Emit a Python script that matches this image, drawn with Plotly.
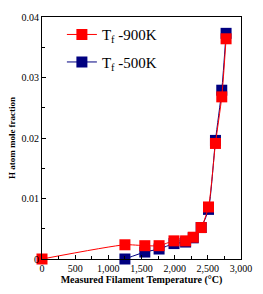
import plotly.graph_objects as go

temp_900 = [0, 1250, 1550, 1765, 1990, 2165, 2280, 2400, 2510, 2615, 2710, 2775]
frac_900 = [0.0, 0.00235, 0.0022, 0.0022, 0.0030, 0.0030, 0.0036, 0.0052, 0.0086, 0.0191, 0.0268, 0.0364]
temp_500 = [1250, 1550, 1765, 1990, 2165, 2280, 2400, 2510, 2615, 2710, 2775]
frac_500 = [0.0, 0.00115, 0.00165, 0.00255, 0.0028, 0.0035, 0.0052, 0.0082, 0.0196, 0.0279, 0.0373]
y_tickvals = [0, 0.01, 0.02, 0.03, 0.04]
y_ticktext = ["0", "0.01", "0.02", "0.03", "0.04"]
x_tickvals = [0, 500, 1000, 1500, 2000, 2500, 3000]
x_ticktext = ["0", "500", "1,000", "1,500", "2,000", "2,500", "3,000"]

serif = "Liberation Serif, Times New Roman, serif"

fig = go.Figure()
fig.add_trace(go.Scatter(
    x=temp_500, y=frac_500, mode="lines+markers", name="T<sub>f</sub> -500K",
    legendgroup="b", legendrank=2,
    line=dict(color="#000080", width=1, shape="spline", smoothing=0.6),
    marker=dict(symbol="square", size=11, color="#000080"),
    cliponaxis=False,
))
fig.add_trace(go.Scatter(
    x=temp_900, y=frac_900, mode="lines+markers", name="T<sub>f</sub> -900K",
    legendgroup="a", legendrank=1,
    line=dict(color="#ff0000", width=1, shape="spline", smoothing=0.6),
    marker=dict(symbol="square", size=11, color="#ff0000"),
    cliponaxis=False,
))

fig.update_layout(
    width=263, height=294,
    margin=dict(l=40, r=21, t=11, b=32),
    paper_bgcolor="white", plot_bgcolor="white",
    font=dict(family=serif, size=10, color="black"),
    showlegend=True,
    legend=dict(x=0.1, y=0.995, xanchor="left", yanchor="top",
                traceorder="grouped", font=dict(family=serif, size=15),
                bgcolor="rgba(0,0,0,0)", tracegroupgap=5),
    xaxis=dict(
        range=[0, 3000], tickvals=x_tickvals, ticktext=x_ticktext,
        ticks="inside", ticklen=4, tickcolor="black",
        minor=dict(dtick=250, ticks="inside", ticklen=3, tickcolor="black"),
        showline=True, linecolor="black", linewidth=1, mirror=True,
        showgrid=False, zeroline=False,
        title=dict(text="<b>Measured Filament Temperature (°C)</b>", standoff=2,
                   font=dict(family=serif, size=10)),
        tickfont=dict(family=serif, size=10),
    ),
    yaxis=dict(
        range=[0, 0.04], tickvals=y_tickvals, ticktext=y_ticktext,
        ticks="inside", ticklen=4, tickcolor="black",
        minor=dict(dtick=0.005, ticks="inside", ticklen=3, tickcolor="black"),
        showline=True, linecolor="black", linewidth=1, mirror=True,
        showgrid=False, zeroline=False,
        title=dict(text="<b>H atom mole fraction</b>", standoff=4,
                   font=dict(family=serif, size=9)),
        tickfont=dict(family=serif, size=10),
    ),
)

fig.write_html("out.html")
